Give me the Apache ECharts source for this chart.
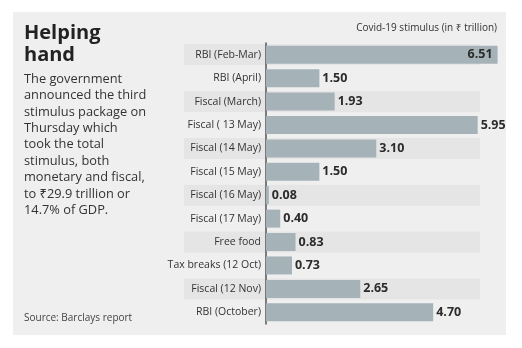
<!DOCTYPE html>
<html>
<head>
<meta charset="utf-8">
<script src="https://cdn.jsdelivr.net/npm/echarts@6/dist/echarts.min.js"></script>
<style>
  html, body { margin: 0; padding: 0; background: #ffffff; }
  #chart { width: 522px; height: 348px; }
</style>
</head>
<body>
<div id="chart"></div>
<script>
// Stimulus packages and their size in ₹ trillion
const categories = [
  'RBI (Feb-Mar)', 'RBI (April)', 'Fiscal (March)', 'Fiscal ( 13 May)',
  'Fiscal (14 May)', 'Fiscal (15 May)', 'Fiscal (16 May)', 'Fiscal (17 May)',
  'Free food', 'Tax breaks (12 Oct)', 'Fiscal (12 Nov)', 'RBI (October)'
];
const stimulus = [6.51, 1.50, 1.93, 5.95, 3.10, 1.50, 0.08, 0.40, 0.83, 0.73, 2.65, 4.70];

const headline = 'Helping\nhand';
const blurb = [
  'The government',
  'announced the third',
  'stimulus package on',
  'Thursday which',
  'took the total',
  'stimulus, both',
  'monetary and fiscal,',
  'to ₹29.9 trillion or',
  '14.7% of GDP.'
];
const unitNote = 'Covid-19 stimulus (in ₹ trillion)';
const sourceNote = 'Source: Barclays report';

const FONT = '"Open Sans", "Noto Sans", "DejaVu Sans", sans-serif';
const chart = echarts.init(document.getElementById('chart'), null, { renderer: 'canvas' });

const option = {
  backgroundColor: '#ffffff',
  animation: false,
  title: [
    { text: headline, left: 24, top: 22, padding: 0,
      textStyle: { fontFamily: FONT, fontSize: 20, fontWeight: 'bold', color: '#222', lineHeight: 22 } },
    { text: blurb.join('\n'), left: 24, top: 71, padding: 0,
      textStyle: { fontFamily: FONT, fontSize: 12.8, fontWeight: 'normal', color: '#333', lineHeight: 16.4 } },
    { text: sourceNote, left: 24, top: 313, padding: 0,
      textStyle: { fontFamily: FONT, fontSize: 10, fontWeight: 'normal', color: '#444' } },
    { text: unitNote, right: 25, top: 23, padding: 0,
      textStyle: { fontFamily: FONT, fontSize: 10, fontWeight: 'normal', color: '#333' } }
  ],
  grid: { left: 266, top: 43, width: 249, height: 281, containLabel: false },
  xAxis: {
    type: 'value', min: 0, max: 7,
    show: false
  },
  yAxis: {
    type: 'category', data: categories, inverse: true,
    axisLine: { show: true, lineStyle: { color: '#555', width: 1.5 } },
    axisTick: { show: false },
    axisLabel: { fontFamily: FONT, fontSize: 10.5, color: '#333', margin: 5 }
  },
  series: [{
    type: 'bar',
    data: stimulus.map((v, i) => ({
      value: v,
      label: i === 0
        ? { position: 'insideRight', distance: 5 }
        : { position: 'right', distance: 3 }
    })),
    barWidth: 18,
    itemStyle: { color: '#a5b2b8' },
    label: {
      show: true,
      fontFamily: FONT, fontSize: 12.5, fontWeight: 'bold', color: '#2b2b2b',
      formatter: p => p.value.toFixed(2)
    },
    z: 3
  }]
};
chart.setOption(option);

// Panel background and alternating row bands, positioned from the category axis
function drawBackdrop() {
  const elements = [{
    type: 'rect', z: -10, silent: true,
    shape: { x: 13, y: 12, width: 493, height: 323 },
    style: { fill: '#efefef' }
  }];
  categories.forEach((c, i) => {
    if (i % 2 !== 0) return;
    const y = chart.convertToPixel({ yAxisIndex: 0 }, c);
    elements.push({
      type: 'rect', z: -9, silent: true,
      shape: { x: 184, y: y - 10.5, width: 296, height: 21 },
      style: { fill: '#e5e5e5' }
    });
  });
  chart.setOption({ graphic: elements });
}
drawBackdrop();
</script>
</body>
</html>
